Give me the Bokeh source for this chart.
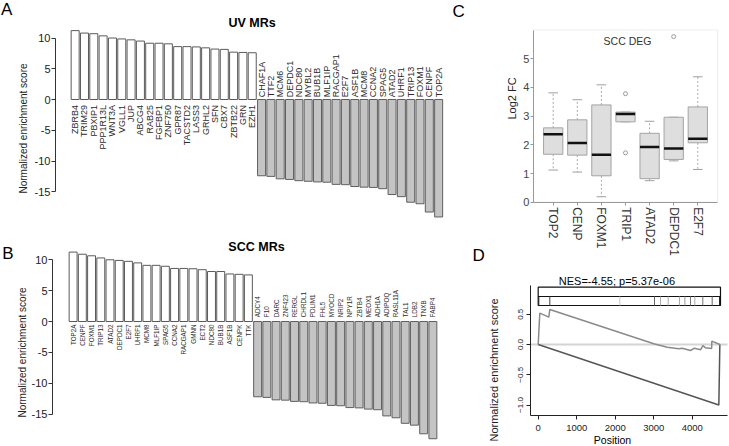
import math
from bokeh.plotting import figure
from bokeh.models import Range1d, FixedTicker, Label, ColumnDataSource, BoxAnnotation
from bokeh.layouts import row, column
from bokeh.embed import file_html
from bokeh.resources import INLINE
from bokeh.core.properties import value

FONT = "Liberation Sans"

# ---------------- data ----------------
uv_up_genes = ["ZBRB4", "TRIM29", "PBXIP1", "PPP1R13L", "WNT3A", "VGLL1", "JUP", "ABCG4", "RAB25", "FGFBP1",
               "ZNF750", "GPR87", "TACSTD2", "LASS3", "GRHL2", "SFN", "CBX7", "ZBTB22", "GRN", "EZH1"]
uv_up_nes = [11.2, 10.8, 10.7, 10.35, 10.0, 9.85, 9.7, 9.5, 9.15, 9.15,
             9.05, 8.6, 8.6, 8.55, 8.4, 8.2, 8.15, 7.7, 7.65, 7.6]
uv_dn_genes = ["CHAF1A", "TTF2", "MCM6", "DEPDC1", "NDC80", "MYBL2", "BUB1B", "MLF1IP", "RACGAP1", "E2F7",
               "ASF1B", "MCM8", "CCNA2", "SPAG5", "ATAD2", "UHRF1", "TRIP13", "FOXM1", "CENPF", "TOP2A"]
uv_dn_nes = [-12.4, -12.5, -12.9, -13.0, -13.2, -13.3, -13.4, -13.45, -13.8, -13.85,
             -14.15, -14.25, -14.3, -14.5, -15.45, -15.8, -16.7, -16.95, -18.3, -19.1]

scc_up_genes = ["TOP2A", "CENPF", "FOXM1", "TRIP13", "ATAD2", "DEPDC1", "E2F7", "UHRF1", "MCM8", "MLF1IP",
                "SPAG5", "CCNA2", "RACGAP1", "GMNN", "ECT2", "NDC80", "BUB1B", "ASF1B", "CENPK", "TTK"]
scc_up_nes = [11.25, 10.9, 10.65, 10.3, 10.0, 9.9, 9.75, 9.5, 9.1, 9.1,
              8.95, 8.6, 8.6, 8.55, 8.4, 8.1, 8.1, 7.7, 7.65, 7.55]
scc_dn_genes = ["ADCY4", "F10", "DARC", "ZNF423", "RERGL", "CHRDL1", "PDLIM1", "FHL5", "MYOCD", "NRIP2",
                "NPY1R", "ZBTB4", "MEOX1", "ADH1A", "ADIPOQ", "RASL11A", "TAL1", "LDB2", "TNXB", "FABP4"]
scc_dn_nes = [-12.2, -12.3, -12.7, -12.75, -12.95, -13.0, -13.2, -13.25, -13.6, -13.65,
              -13.95, -14.0, -14.2, -14.3, -15.3, -15.6, -16.5, -16.8, -18.2, -19.0]

nes_ticks = [-15, -10, -5, 0, 5, 10]
nes_tick_labels = ["-15", "-10", "-5", "0", "5", "10"]

deg_genes = ["TOP2", "CENP", "FOXM1", "TRIP1", "ATAD2", "DEPDC1", "E2F7"]
deg_low = [1.12, 1.05, 0.19, 2.80, 0.75, 1.44, 1.14]
deg_q1 = [1.67, 1.64, 0.92, 2.80, 0.82, 1.49, 2.07]
deg_med = [2.37, 2.06, 1.65, 3.07, 1.92, 1.87, 2.21]
deg_q3 = [2.59, 2.87, 3.39, 3.14, 2.40, 2.96, 3.32]
deg_high = [3.81, 3.57, 4.09, 3.14, 2.82, 2.96, 4.37]
deg_out_gene = ["TRIP1", "TRIP1", "DEPDC1"]
deg_out_val = [3.78, 1.72, 5.77]
fc_ticks = [0, 1, 2, 3, 4, 5]
c_xlim = (0.18, 7.82)
c_ylim = (0.0, 6.0)

gsea_x = [0, 42, 276, 302, 3003, 3350, 3652, 3739, 3956, 4060, 4216, 4277, 4346, 4505, 4510, 4718]
gsea_y = [0, 0.518, 0.452, 0.579, 0.011, -0.044, -0.072, -0.061, -0.099, -0.061, -0.088, -0.017,
          -0.055, -0.065, 0.055, 0.0]
neg_x = [0, 4692, 4718]
neg_y = [0, -1.0, 0.0]
n_genes = 4735
hit_pos = [16, 302, 2121, 3021, 3177, 3376, 3671, 3810, 3956, 4068, 4276, 4519, 4710]
hit_col = ["#222222", "#444444", "#c8c8c8", "#666666", "#aaaaaa", "#aaaaaa", "#aaaaaa",
           "#999999", "#777777", "#aaaaaa", "#777777", "#666666", "#222222"]
pos_ticks = [0, 1000, 2000, 3000, 4000]
es_ticks = [0.5, 0.0, -0.5, -1.0]
es_tick_labels = ["0.5", "0.0", "\u22120.5", "\u22121.0"]
d_xlim = (-200, 4917)
d_ylim = (-1.17, 0.97)


# ---------------- helpers ----------------
# Each panel is a figure whose plotting frame fills the whole canvas; axes are drawn
# at fixed data locations so that all titles/letters can live inside the frame.
def make_panel(ox, oy, w, h, xmap, ymap):
    p = figure(width=w, height=h,
               x_range=Range1d(xmap(ox), xmap(ox + w)), y_range=Range1d(ymap(oy + h), ymap(oy)),
               output_backend="svg", toolbar_location=None,
               min_border_left=0, min_border_right=0, min_border_top=0, min_border_bottom=0)
    p.outline_line_color = None
    p.xgrid.visible = False
    p.ygrid.visible = False
    p.background_fill_color = "white"
    p.border_fill_color = "white"
    return p


def add_label(p, xmap, ymap, rx, ry, text, size, angle=0.0, bold=False, color="#000000",
              align="center"):
    # ry is the vertical centre of the text (capital letters)
    p.add_layout(Label(x=xmap(rx), y=ymap(ry), text=text, angle=angle,
                       text_font=FONT, text_font_size=f"{size}px",
                       text_font_style="bold" if bold else "normal",
                       text_color=color, text_align=align, text_baseline="middle"))


def style_axis(ax, size, color="#222222", line="#222222", tick_out=4, standoff=2):
    ax.major_label_text_font = FONT
    ax.major_label_text_font_size = f"{size}px"
    ax.major_label_text_color = color
    ax.minor_tick_line_color = None
    ax.major_tick_in = 0
    ax.major_tick_out = tick_out
    ax.major_label_standoff = standoff
    ax.axis_line_color = line
    ax.major_tick_line_color = line


def bar_panel(ox, oy, w, h, x0_ref, step_ref, zero_ref, unit_ref, axis_ref,
              up_genes, up_nes, dn_genes, dn_nes, lab_size, pos_lab_ref, neg_lab_ref,
              title, title_ref, letter, letter_ref, ylab_ref):
    xmap = lambda r: (r - x0_ref) / step_ref
    ymap = lambda r: (zero_ref - r) / unit_ref
    p = make_panel(ox, oy, w, h, xmap, ymap)
    p.xaxis.visible = False
    n_up = len(up_genes)
    xs_up = [i + 0.5 for i in range(n_up)]
    xs_dn = [n_up + i + 0.5 for i in range(len(dn_genes))]
    up = ColumnDataSource(dict(x=xs_up, top=up_nes, name=up_genes,
                               ly=[ymap(pos_lab_ref)] * n_up))
    dn = ColumnDataSource(dict(x=xs_dn, top=dn_nes, name=dn_genes,
                               ly=[ymap(neg_lab_ref)] * len(dn_genes)))
    p.vbar(x="x", top="top", width=0.86, source=up, fill_color="white",
           line_color="#5a5a5a", line_width=1)
    p.vbar(x="x", top="top", width=0.86, source=dn, fill_color="#c4c4c4",
           line_color="#606060", line_width=1)
    common = dict(angle=math.pi / 2, text_baseline="middle", text_font=value(FONT),
                  text_font_size=f"{lab_size}px", text_color="#2a2a2a")
    p.text(x="x", y="ly", text="name", source=up, text_align="right", **common)
    p.text(x="x", y="ly", text="name", source=dn, text_align="left", **common)

    ax = p.yaxis[0]
    ax.fixed_location = xmap(axis_ref)
    ax.ticker = FixedTicker(ticks=nes_ticks)
    ax.major_label_overrides = {t: s for t, s in zip(nes_ticks, nes_tick_labels)}
    ax.bounds = (min(nes_ticks), max(nes_ticks))
    style_axis(ax, 11, "#222222", "#333333", 4, 1)

    add_label(p, xmap, ymap, title_ref[0], title_ref[1], title, 12.5, bold=True)
    add_label(p, xmap, ymap, letter_ref[0], letter_ref[1], letter, 17, align="left")
    add_label(p, xmap, ymap, ylab_ref[0], ylab_ref[1], "Normalized enrichment score", 10,
              angle=math.pi / 2, color="#222222")
    return p


# ---------------- panel A ----------------
pA = bar_panel(0, 0, 448, 231, 70, 9.32, 99, 6.15, 55,
               uv_up_genes, uv_up_nes, uv_dn_genes, uv_dn_nes, 9, 104.5, 96.7,
               "UV MRs", (251.5, 22.5), "A", (0.5, 9.2), (22.5, 128))

# ---------------- panel B ----------------
pB = bar_panel(0, 231, 448, 215, 68, 9.225, 321, 6.17, 52,
               scc_up_genes, scc_up_nes, scc_dn_genes, scc_dn_nes, 6.3, 324, 316.7,
               "SCC MRs", (256, 246.2), "B", (1.7, 253), (21.5, 352))

# ---------------- panel C ----------------
cx = lambda r: 1 + (r - 552.7) / 24.1
cy = lambda r: (201.7 - r) / 28.7
pC = make_panel(448, 0, 281, 268, cx, cy)
pC.add_layout(BoxAnnotation(left=c_xlim[0], right=c_xlim[1], bottom=c_ylim[0], top=c_ylim[1],
                            fill_color=None, line_color="#c4c4c4", line_width=1, level="underlay"))
xs = list(range(1, len(deg_genes) + 1))
pC.segment(x0=xs, y0=deg_q3, x1=xs, y1=deg_high, line_color="#a8a8a8", line_dash="2 2")
pC.segment(x0=xs, y0=deg_q1, x1=xs, y1=deg_low, line_color="#a8a8a8", line_dash="2 2")
pC.segment(x0=[x - 0.2 for x in xs], y0=deg_high, x1=[x + 0.2 for x in xs], y1=deg_high,
           line_color="#a0a0a0")
pC.segment(x0=[x - 0.2 for x in xs], y0=deg_low, x1=[x + 0.2 for x in xs], y1=deg_low,
           line_color="#a0a0a0")
pC.vbar(x=xs, bottom=deg_q1, top=deg_q3, width=0.8, fill_color="#dedede",
        line_color="#a4a4a4", line_width=1)
pC.segment(x0=[x - 0.4 for x in xs], y0=deg_med, x1=[x + 0.4 for x in xs], y1=deg_med,
           line_color="#111111", line_width=2.5)
pC.scatter(x=[deg_genes.index(g) + 1 for g in deg_out_gene], y=deg_out_val, marker="circle",
           size=4, fill_color=None, line_color="#999999")
axc = pC.xaxis[0]
axc.fixed_location = c_ylim[0]
axc.bounds = c_xlim
axc.ticker = FixedTicker(ticks=xs)
axc.major_label_overrides = {x: g for x, g in zip(xs, deg_genes)}
axc.major_label_orientation = "vertical"
style_axis(axc, 12, "#333333", "#999999", 3, 2)
ayc = pC.yaxis[0]
ayc.fixed_location = c_xlim[0]
ayc.bounds = c_ylim
ayc.ticker = FixedTicker(ticks=fc_ticks)
style_axis(ayc, 11, "#444444", "#999999", 3, 1)
add_label(pC, cx, cy, 627, 40, "SCC DEG", 10.5, color="#333333")
add_label(pC, cx, cy, 511.5, 98, "Log2 FC", 11, angle=math.pi / 2, color="#222222")
add_label(pC, cx, cy, 452, 10.5, "C", 17, align="left")
add_label(pC, cx, cy, 472, 255, "D", 17, align="left")

# ---------------- panel D ----------------
dx = lambda r: (r - 537.7) / 0.0385
dy = lambda r: (344 - r) / 60.5
pD = make_panel(448, 268, 281, 178, dx, dy)
pD.line(x=list(d_xlim), y=[0, 0], line_color="#d4d4d4", line_width=2)
rug_top, rug_mid, rug_bot = dy(286.7), dy(296), dy(305)
pD.quad(left=[0, 0], right=[n_genes, n_genes], bottom=[rug_mid, rug_bot], top=[rug_top, rug_mid],
        fill_color=None, line_color="#111111", line_width=1.2)
pD.segment(x0=hit_pos, y0=[rug_bot] * len(hit_pos), x1=hit_pos, y1=[rug_mid] * len(hit_pos),
           line_color=hit_col, line_width=1)
pD.line(neg_x, neg_y, line_color="#555555", line_width=1.5)
pD.line(gsea_x, gsea_y, line_color="#8a8a8a", line_width=1.5)
axd = pD.xaxis[0]
axd.fixed_location = d_ylim[0]
axd.bounds = d_xlim
axd.ticker = FixedTicker(ticks=pos_ticks)
style_axis(axd, 9.5, "#222222", "#222222", 4, 6)
ayd = pD.yaxis[0]
ayd.fixed_location = d_xlim[0]
ayd.bounds = d_ylim
ayd.ticker = FixedTicker(ticks=es_ticks)
ayd.major_label_overrides = {t: s for t, s in zip(es_ticks, es_tick_labels)}
ayd.major_label_orientation = "vertical"
style_axis(ayd, 8, "#222222", "#222222", 4, 4)
add_label(pD, dx, dy, 558.3, 280.6, "NES=-4.55; p=5.37e-06", 11, align="left")
add_label(pD, dx, dy, 612, 439.5, "Position", 10.5)
add_label(pD, dx, dy, 493, 369.5, "Normalized enrichment score", 11, angle=math.pi / 2,
          color="#222222")

layout = row(column(pA, pB), column(pC, pD))
open("out.html", "w").write(file_html(layout, INLINE))
